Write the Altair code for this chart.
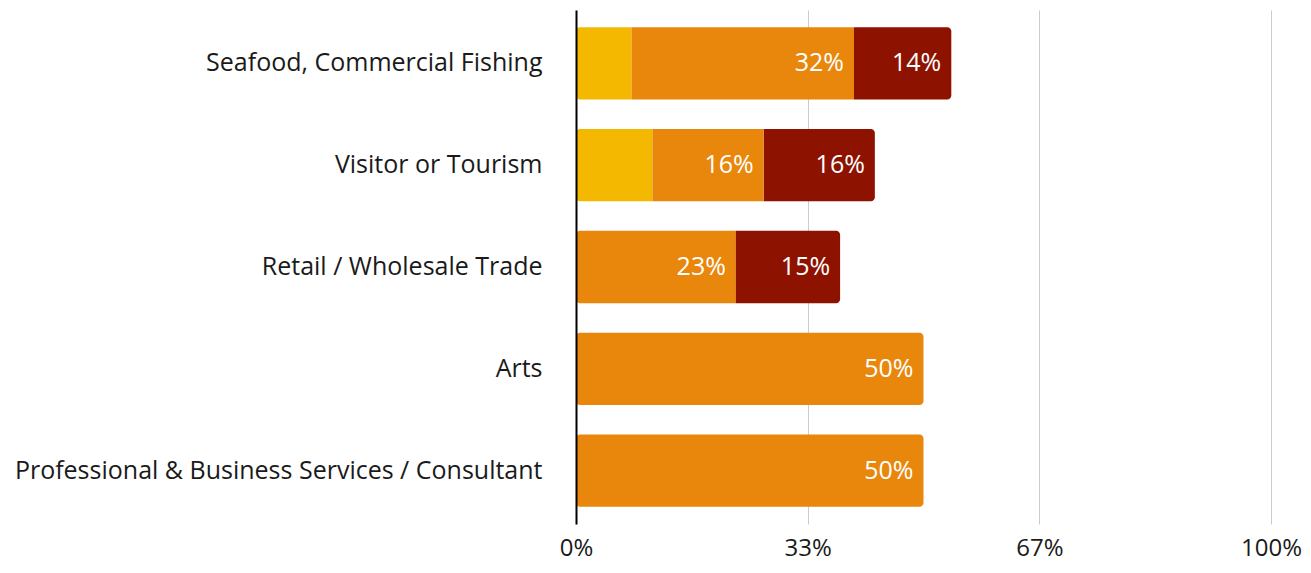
import altair as alt
import pandas as pd

categories = [
    "Seafood, Commercial Fishing",
    "Visitor or Tourism",
    "Retail / Wholesale Trade",
    "Arts",
    "Professional & Business Services / Consultant",
]
series_names = ["Series A", "Series B", "Series C"]
series_a = [8, 11, 0, 0, 0]
series_b = [32, 16, 23, 50, 50]
series_c = [14, 16, 15, 0, 0]
colors = ["#F5B800", "#E8870C", "#8E1200"]
tick_values = [0, 100 / 3, 200 / 3, 100]

rows = []
for i, cat in enumerate(categories):
    vals = [series_a[i], series_b[i], series_c[i]]
    nz = [k for k, v in enumerate(vals) if v > 0]
    for k, v in enumerate(vals):
        if v <= 0:
            continue
        first = k == nz[0]
        last = k == nz[-1]
        if first and last:
            ends = "both"
        elif first:
            ends = "left"
        elif last:
            ends = "right"
        else:
            ends = "none"
        rows.append({"cat": cat, "series": series_names[k], "order": k,
                     "value": v, "ends": ends})
df = pd.DataFrame(rows)

FONT = "Open Sans"
WEIGHT = 400
SIZE = 25
base = alt.Chart(df).transform_stack(
    stack="value", groupby=["cat"], as_=["x0", "x1"],
    sort=[alt.SortField("order", order="ascending")],
)

xenc = alt.X("x0:Q", scale=alt.Scale(domain=[0, 100], nice=False),
             axis=alt.Axis(values=tick_values, labelExpr="format(datum.value, '.0f') + '%'",
                           title=None, domain=False, ticks=False, grid=True,
                           gridColor="#cccccc", gridWidth=1, labelFlush=False,
                           labelPadding=12, labelFontSize=24, labelFont=FONT,
                           labelFontWeight=WEIGHT, labelColor="#1a1a1a"))
yenc = alt.Y("cat:N", sort=categories,
             scale=alt.Scale(paddingInner=0.29, paddingOuter=0.17),
             axis=alt.Axis(title=None, ticks=False, domain=True, domainColor="#000000",
                           domainWidth=2, grid=False, labelPadding=34, zindex=1,
                           labelFontSize=SIZE, labelFont=FONT, labelFontWeight=WEIGHT,
                           labelColor="#1a1a1a",
                           labelLimit=600, minExtent=568, maxExtent=568))
cenc = alt.Color("series:N", scale=alt.Scale(domain=series_names, range=colors), legend=None)

radii = {
    "both": dict(cornerRadius=4),
    "left": dict(cornerRadiusTopLeft=4, cornerRadiusBottomLeft=4),
    "right": dict(cornerRadiusTopRight=4, cornerRadiusBottomRight=4),
    "none": dict(),
}
layers = []
for key, r in radii.items():
    layers.append(
        base.transform_filter(alt.datum.ends == key)
        .mark_bar(**r)
        .encode(x=xenc, x2="x1:Q", y=yenc, color=cenc)
    )

labels = base.transform_filter(alt.datum.series != series_names[0]).transform_calculate(
    label="format(datum.value, '.0f') + '%'"
).mark_text(
    align="right", baseline="middle", dx=-10, color="white", fontSize=SIZE,
    font=FONT, fontWeight=WEIGHT
).encode(
    x=alt.X("x1:Q"),
    y=alt.Y("cat:N", sort=categories),
    text=alt.Text("label:N"),
)

chart = alt.layer(*layers, labels).properties(
    width=695, height=514, padding={"left": 0, "top": 2, "right": 0, "bottom": 4}
).configure_view(stroke=None)

chart.save("out.html", embed_options={"renderer": "svg", "actions": False})
